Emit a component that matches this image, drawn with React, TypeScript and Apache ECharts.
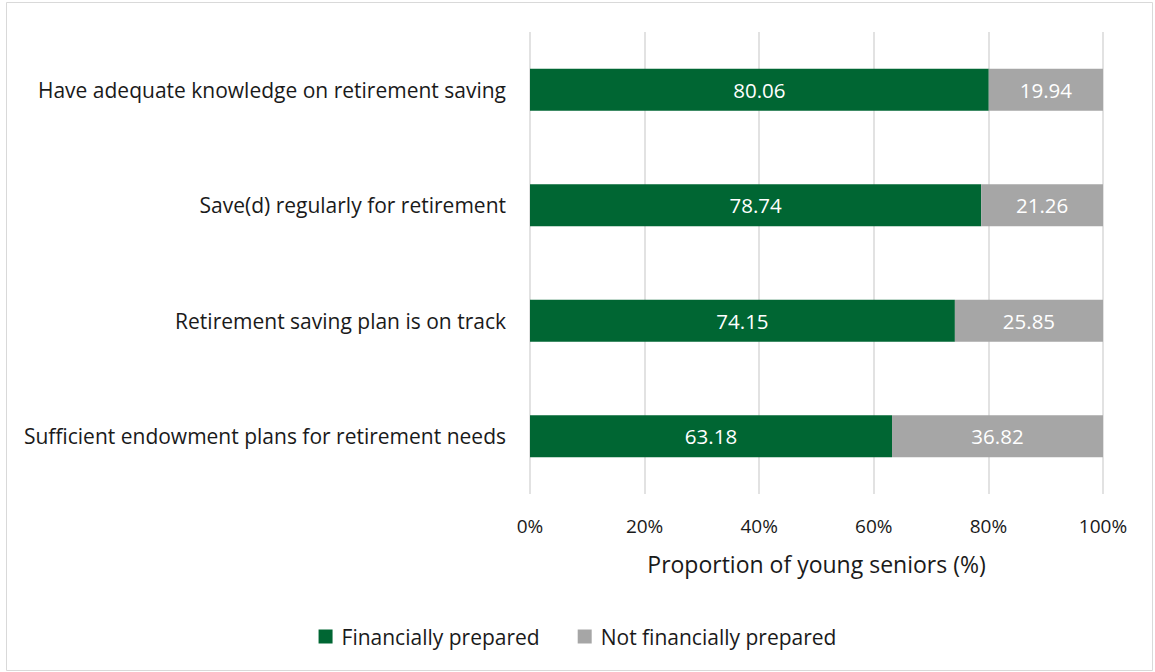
import React, { useEffect, useRef } from "react";
import * as echarts from "echarts";

const categories = [
  "Sufficient endowment plans for retirement needs",
  "Retirement saving plan is on track",
  "Save(d) regularly for retirement",
  "Have adequate knowledge on retirement saving",
];
const preparedValues = [63.18, 74.15, 78.74, 80.06];
const notPreparedValues = [36.82, 25.85, 21.26, 19.94];
const seriesNames = ["Financially prepared", "Not financially prepared"];
const axisTitle = "Proportion of young seniors (%)";

const FONT = "'Open Sans', 'Noto Sans', sans-serif";

export default function App() {
  const ref = useRef<HTMLDivElement>(null);
  useEffect(() => {
    if (!ref.current) return;
    const chart = echarts.init(ref.current, null, { renderer: "svg" });
    chart.setOption({
      animation: false,
      backgroundColor: "#ffffff",
      textStyle: { fontFamily: FONT },
      graphic: [
        {
          type: "rect",
          shape: { x: 6.5, y: 2.5, width: 1146, height: 668 },
          style: { fill: "none", stroke: "#d9d9d9", lineWidth: 1 },
          silent: true,
        },
      ],
      grid: { left: 530, right: 52, top: 32, bottom: 178, containLabel: false },
      legend: {
        top: 621,
        left: "center",
        itemWidth: 14,
        itemHeight: 14,
        itemGap: 38,
        icon: "rect",
        textStyle: {
          fontSize: 21,
          color: "#1a1a1a",
          fontFamily: FONT,
          padding: [0, 0, 0, 4],
        },
        data: seriesNames,
      },
      xAxis: {
        type: "value",
        min: 0,
        max: 100,
        interval: 20,
        name: axisTitle,
        nameLocation: "middle",
        nameGap: 58,
        nameTextStyle: { fontSize: 23, color: "#1a1a1a", fontFamily: FONT },
        axisLabel: {
          formatter: "{value}%",
          fontSize: 19,
          color: "#1a1a1a",
          margin: 22,
          fontFamily: FONT,
        },
        axisLine: { show: false },
        axisTick: { show: false },
        splitLine: { show: true, lineStyle: { color: "#d9d9d9", width: 1.5 } },
      },
      yAxis: {
        type: "category",
        data: categories,
        axisLine: { show: false },
        axisTick: { show: false },
        axisLabel: { fontSize: 21, color: "#1a1a1a", margin: 24, fontFamily: FONT },
      },
      series: [
        {
          name: seriesNames[0],
          type: "bar",
          stack: "total",
          data: preparedValues,
          barWidth: "36.5%",
          itemStyle: { color: "#006633" },
          label: {
            show: true,
            position: "inside",
            color: "#ffffff",
            fontSize: 20.5,
            fontFamily: FONT,
            formatter: (p: any) => p.value.toFixed(2),
          },
        },
        {
          name: seriesNames[1],
          type: "bar",
          stack: "total",
          data: notPreparedValues,
          barWidth: "36.5%",
          itemStyle: { color: "#a6a6a6" },
          label: {
            show: true,
            position: "inside",
            color: "#ffffff",
            fontSize: 20.5,
            fontFamily: FONT,
            formatter: (p: any) => p.value.toFixed(2),
          },
        },
      ],
    });
    return () => chart.dispose();
  }, []);
  return (
    <div
      ref={ref}
      style={{ position: "fixed", left: 0, top: 0, width: 1155, height: 672 }}
    />
  );
}
